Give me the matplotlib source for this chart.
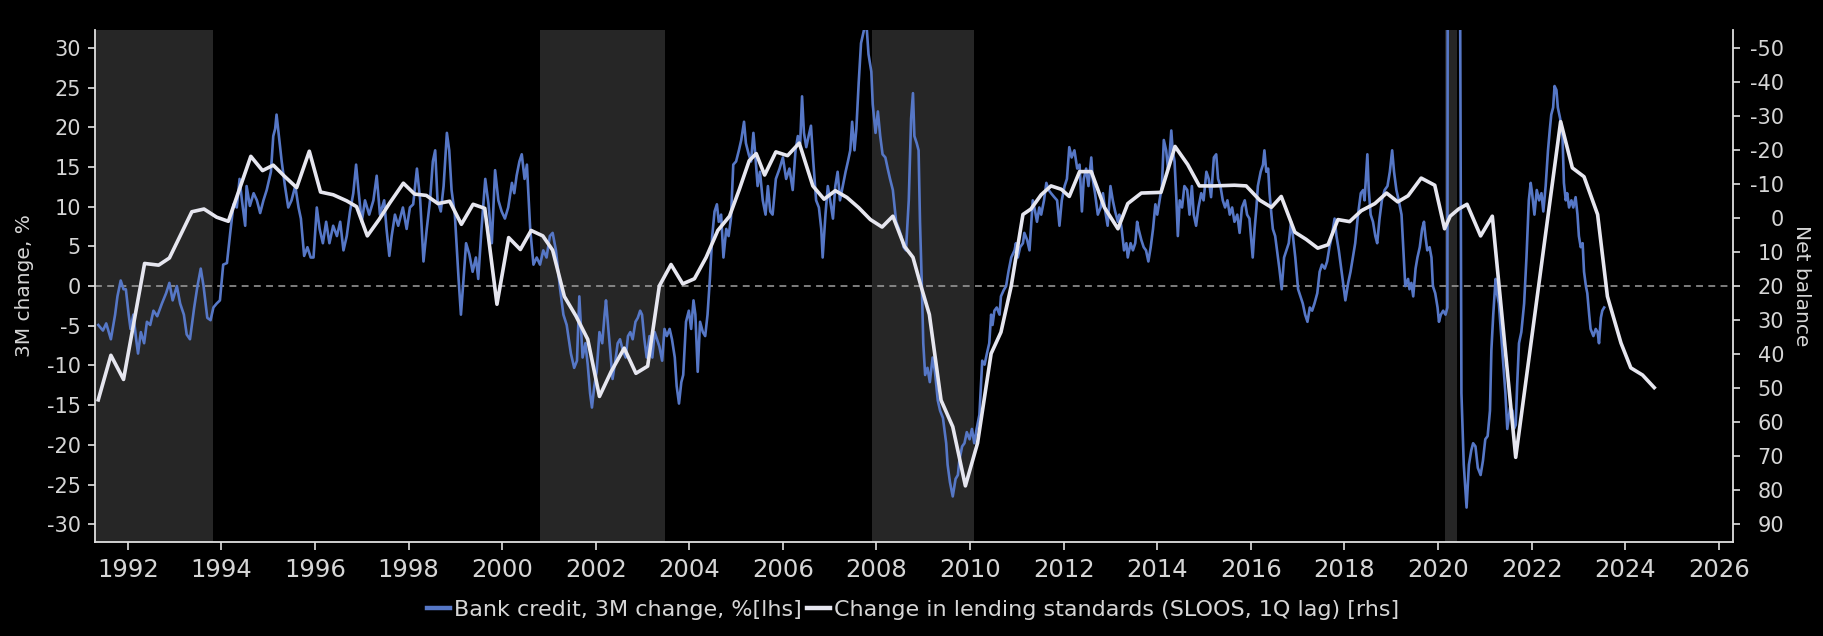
import matplotlib
matplotlib.use("Agg")
import matplotlib.pyplot as plt

plt.rcParams["font.family"] = ["DejaVu Sans"]
plt.rcParams["axes.unicode_minus"] = False

# ---------------- data ----------------
credit_years = [
 1991.37,1991.47,1991.54,1991.64,1991.73,1991.78,1991.85,1991.91,1991.96,1992.02,
 1992.06,1992.12,1992.18,1992.22,1992.28,1992.35,1992.41,1992.48,1992.55,1992.63,
 1992.73,1992.82,1992.89,1992.96,1993.05,1993.12,1993.20,1993.26,1993.33,1993.42,
 1993.49,1993.56,1993.62,1993.70,1993.77,1993.83,1993.90,1993.97,1994.04,1994.12,
 1994.19,1994.26,1994.33,1994.39,1994.44,1994.51,1994.54,1994.61,1994.69,1994.76,
 1994.83,1994.90,1994.97,1995.06,1995.11,1995.15,1995.18,1995.23,1995.29,1995.36,
 1995.43,1995.50,1995.58,1995.65,1995.70,1995.77,1995.84,1995.91,1995.97,1996.04,
 1996.10,1996.17,1996.24,1996.31,1996.39,1996.47,1996.54,1996.61,1996.68,1996.75,
 1996.82,1996.88,1996.93,1997.00,1997.07,1997.16,1997.25,1997.32,1997.39,1997.48,
 1997.53,1997.59,1997.64,1997.71,1997.78,1997.88,1997.96,1998.03,1998.10,1998.18,
 1998.25,1998.32,1998.39,1998.46,1998.52,1998.57,1998.62,1998.69,1998.75,1998.82,
 1998.87,1998.92,1998.99,1999.07,1999.12,1999.17,1999.23,1999.30,1999.37,1999.44,
 1999.49,1999.56,1999.64,1999.71,1999.78,1999.85,1999.92,1999.99,2000.06,2000.13,
 2000.21,2000.26,2000.31,2000.37,2000.42,2000.48,2000.53,2000.60,2000.67,2000.74,
 2000.81,2000.88,2000.95,2001.02,2001.08,2001.15,2001.24,2001.31,2001.38,2001.47,
 2001.54,2001.60,
 2001.65,2001.72,2001.78,2001.83,2001.88,2001.92,2001.97,2002.02,2002.08,2002.14,
 2002.19,2002.22,2002.27,2002.31,2002.36,2002.42,2002.47,2002.52,2002.58,2002.64,
 2002.69,2002.74,2002.79,2002.85,2002.90,2002.95,2002.99,2003.04,2003.09,2003.15,
 2003.21,2003.26,2003.31,2003.36,2003.42,2003.47,2003.52,2003.58,2003.63,2003.69,
 2003.73,2003.78,2003.83,2003.87,2003.93,2003.99,2004.04,2004.09,2004.13,2004.18,
 2004.23,2004.29,2004.34,2004.39,2004.44,2004.49,2004.54,2004.59,2004.63,2004.68,
 2004.73,2004.79,2004.84,2004.89,2004.94,2005.00,2005.06,2005.11,2005.17,2005.21,
 2005.27,2005.32,2005.37,2005.41,2005.46,2005.51,2005.57,2005.63,2005.68,2005.73,
 2005.78,2005.85,2005.93,2006.00,2006.07,2006.14,2006.21,2006.27,2006.32,2006.37,
 2006.41,2006.45,2006.50,2006.55,2006.60,2006.65,2006.71,2006.77,2006.82,2006.85,
 2006.91,2006.96,2007.01,2007.07,2007.12,2007.17,2007.22,2007.28,2007.34,2007.39,
 2007.44,2007.48,2007.53,2007.57,2007.62,2007.67,2007.72,2007.78,2007.83,2007.89,
 2007.92,2007.98,2008.03,2008.08,2008.13,2008.19,2008.24,2008.29,2008.35,2008.42,
 2008.48,2008.53,2008.58,2008.63,2008.69,2008.74,2008.78,2008.81,2008.86,2008.90,
 2008.93,2008.97,2009.00,2009.04,2009.09,2009.14,2009.20,2009.25,2009.31,2009.36,
 2009.42,2009.49,2009.52,2009.57,2009.63,2009.69,2009.74,2009.77,2009.83,2009.88,
 2009.93,2009.99,2010.04,2010.09,2010.14,2010.20,2010.26,2010.31,2010.36,2010.41,
 2010.45,2010.48,2010.52,2010.57,2010.63,
 2010.66,2010.72,2010.77,2010.82,2010.88,2010.95,2010.98,2011.02,2011.07,2011.13,
 2011.16,2011.22,2011.27,2011.30,2011.34,2011.39,2011.43,2011.48,2011.52,2011.58,
 2011.63,2011.68,2011.73,2011.80,2011.86,2011.91,2011.96,2012.02,2012.07,2012.12,
 2012.17,2012.23,2012.29,2012.34,2012.39,2012.43,2012.48,2012.53,2012.59,2012.62,
 2012.67,2012.73,2012.79,2012.84,2012.89,2012.94,2013.00,2013.05,2013.10,2013.16,
 2013.19,2013.24,2013.29,2013.34,2013.37,2013.43,2013.48,2013.53,2013.57,2013.60,
 2013.66,2013.71,2013.76,2013.81,2013.86,2013.91,2013.96,2014.00,2014.05,2014.10,
 2014.14,2014.19,2014.23,2014.26,2014.30,2014.33,2014.37,2014.41,2014.44,2014.48,
 2014.53,2014.58,2014.64,2014.69,2014.74,2014.78,2014.83,2014.88,2014.94,2014.99,
 2015.05,2015.10,2015.15,2015.21,2015.26,2015.30,2015.35,2015.40,2015.45,2015.50,
 2015.55,2015.60,2015.65,2015.71,2015.76,2015.81,2015.87,2015.92,2015.97,2016.02,
 2016.04,2016.08,2016.12,2016.15,2016.21,2016.26,2016.29,2016.33,2016.37,2016.40,
 2016.44,2016.47,2016.52,2016.56,2016.61,2016.66,2016.71,2016.76,2016.81,2016.86,
 2016.90,2016.95,2017.01,2017.06,2017.11,2017.16,2017.21,2017.26,2017.31,2017.36,
 2017.42,2017.47,2017.52,2017.58,2017.63,2017.68,2017.73,2017.79,2017.83,2017.88,
 2017.92,2017.97,2018.02,2018.08,2018.13,2018.18,2018.23,2018.29,2018.35,2018.40,
 2018.43,2018.49,2018.52,2018.56,2018.61,2018.66,2018.70,2018.75,2018.80,2018.86,
 2018.92,2018.97,2019.02,2019.06,2019.11,2019.16,2019.22,2019.26,2019.30,2019.36,
 2019.39,2019.43,2019.47,2019.52,2019.56,2019.61,2019.66,2019.70,2019.73,2019.77,
 2019.82,2019.86,2019.89,2019.94,2019.99,2020.02,2020.06,2020.11,2020.16,2020.20,
 2020.21,2020.30,2020.40,2020.47,2020.50,2020.55,2020.61,2020.66,2020.71,2020.75,
 2020.80,2020.85,2020.91,2020.96,2021.01,2021.06,2021.11,2021.14,2021.18,2021.23,
 2021.26,2021.30,2021.34,2021.39,2021.44,2021.48,2021.54,2021.59,2021.62,2021.66,
 2021.69,2021.73,2021.78,2021.84,2021.89,2021.94,2021.98,2022.01,2022.06,2022.11,
 2022.16,2022.21,2022.25,2022.30,2022.35,2022.39,2022.42,2022.46,2022.49,2022.53,
 2022.56,2022.61,2022.66,2022.69,2022.73,2022.76,2022.80,2022.85,2022.89,2022.94,
 2022.98,2023.01,2023.05,2023.09,2023.12,2023.16,2023.19,2023.23,2023.26,2023.32,
 2023.37,2023.41,2023.44,2023.48,2023.51,2023.55,
]
credit_vals = [
 -4.9,-5.6,-4.7,-6.7,-3.6,-1.3,0.7,-0.4,-0.4,-3.6,
 -5.4,-3.6,-6.7,-8.5,-5.8,-7.2,-4.5,-4.9,-3.1,-3.8,
 -2.2,-0.9,0.4,-1.8,0.0,-2.2,-3.6,-6.1,-6.7,-2.7,
 0.0,2.2,0.0,-4.0,-4.3,-2.7,-2.2,-1.8,2.7,2.9,
 6.7,10.3,9.9,13.5,10.8,7.6,12.6,10.1,11.7,10.8,
 9.2,10.8,12.1,14.4,18.9,19.8,21.6,18.9,15.7,12.6,
 9.9,10.8,12.6,9.9,8.5,3.8,4.9,3.6,3.6,9.9,
 7.2,5.4,8.1,5.4,7.6,6.3,8.1,4.5,6.3,9.4,
 11.7,15.3,12.1,8.1,10.8,9.0,10.8,13.9,9.0,10.8,
 7.2,3.8,6.3,9.0,7.6,9.9,7.2,9.9,10.3,14.8,
 10.8,3.1,7.2,10.8,15.7,17.1,10.8,9.4,12.6,19.3,
 17.1,12.1,9.0,0.9,-3.6,0.4,5.4,4.0,1.8,3.6,
 0.9,7.2,13.5,10.3,5.4,14.6,10.8,9.4,8.5,9.9,
 13.0,11.7,13.9,15.7,16.6,13.5,15.3,7.2,2.7,3.6,
 2.7,4.5,3.6,6.3,6.7,4.5,-0.4,-3.6,-4.9,-8.5,
 -10.3,-9.4,
 -1.3,-9.0,-7.2,-9.9,-13.5,-15.3,-12.6,-10.8,-5.8,-7.2,
 -3.6,-1.8,-5.4,-8.1,-11.7,-9.4,-7.2,-6.7,-8.1,-9.0,
 -6.3,-5.8,-6.7,-4.5,-4.0,-3.1,-3.6,-6.7,-9.0,-6.3,
 -9.0,-5.8,-6.7,-7.6,-9.4,-5.4,-6.3,-5.4,-6.7,-9.0,
 -12.6,-14.8,-12.1,-11.2,-4.5,-3.1,-5.4,-1.8,-3.6,-10.8,
 -4.5,-5.8,-6.3,-3.6,0.9,6.3,9.4,10.3,8.1,9.0,
 3.6,7.2,6.3,8.5,15.3,15.7,17.1,18.4,20.7,18.0,
 16.6,15.7,19.3,16.6,12.6,14.4,10.8,9.0,12.6,9.4,
 9.0,13.5,14.8,16.2,13.5,14.8,12.1,17.1,18.9,18.0,
 23.9,19.3,17.5,18.9,20.2,15.7,10.8,9.9,7.2,3.6,
 9.0,12.6,10.8,8.5,12.6,14.4,10.8,12.6,14.4,15.7,
 17.1,20.7,17.1,19.8,25.6,30.6,31.9,33.5,29.2,27.0,
 22.9,19.3,22.0,18.9,16.6,16.2,14.8,13.5,12.1,8.1,
 7.2,6.3,4.9,4.5,10.8,21.1,24.3,18.9,18.0,17.1,
 8.1,0.0,-7.2,-11.2,-10.3,-12.1,-9.0,-10.8,-14.4,-15.7,
 -16.6,-19.8,-22.5,-24.7,-26.5,-24.3,-23.8,-22.0,-20.2,-19.8,
 -18.4,-19.3,-18.0,-19.8,-18.0,-16.2,-9.4,-9.9,-8.5,-7.2,
 -3.6,-4.9,-3.1,-2.7,-3.6,
 -1.3,-0.5,0.0,1.8,3.6,4.5,5.4,3.6,4.9,5.4,
 6.7,5.8,4.5,7.2,10.8,9.4,8.1,9.9,9.0,10.8,
 13.0,12.1,11.7,11.2,10.8,7.6,10.8,12.6,13.5,17.5,
 16.2,17.1,14.8,15.3,9.4,13.5,14.8,12.6,16.2,13.5,
 11.7,9.0,9.9,11.7,9.4,7.6,12.6,10.8,9.4,8.1,
 9.0,7.2,4.5,5.4,3.6,5.4,4.5,5.4,8.1,7.2,
 5.8,4.9,4.5,3.1,4.9,7.2,10.3,9.0,10.8,12.6,
 18.4,17.1,14.8,16.2,19.6,17.1,15.7,10.8,6.3,10.8,
 9.9,12.6,12.1,9.0,12.6,9.0,7.6,9.9,11.7,10.8,
 14.4,13.5,11.2,16.2,16.6,13.5,12.6,10.8,9.9,10.8,
 9.0,9.9,8.1,9.0,6.7,9.9,10.8,9.0,8.5,4.9,
 3.6,7.2,9.9,12.6,14.4,15.3,17.1,14.4,14.8,11.7,
 9.0,7.2,6.3,4.5,2.2,-0.4,3.6,4.5,5.4,8.1,
 6.3,3.6,-0.4,-1.3,-2.2,-3.6,-4.5,-2.7,-3.1,-2.2,
 -0.9,1.8,2.7,2.2,3.1,4.9,6.3,8.5,6.3,4.5,
 2.7,0.4,-1.8,0.4,1.8,3.6,5.4,9.0,11.7,12.1,
 10.8,16.6,12.1,9.0,8.1,6.3,5.4,8.5,10.8,12.1,
 12.6,14.4,17.1,14.4,12.1,10.8,9.0,4.5,0.0,0.9,
 -0.4,0.4,-1.3,2.2,3.6,4.9,7.2,8.1,6.3,4.5,
 4.9,3.6,0.0,-0.9,-2.7,-4.5,-3.6,-3.1,-3.6,-2.7,
 55.0,62.0,50.0,40.0,-13.5,-22.5,-27.9,-22.5,-20.7,-19.8,
 -20.2,-22.9,-23.8,-22.0,-19.3,-18.9,-15.7,-8.1,-3.6,0.9,
 -0.9,-2.2,-5.4,-9.4,-13.5,-18.0,-15.3,-15.7,-18.0,-17.5,
 -12.6,-7.2,-5.8,-2.2,3.6,10.8,13.0,11.7,9.0,12.1,
 10.8,11.7,9.4,12.6,17.1,19.8,21.6,22.5,25.2,24.7,
 22.5,21.1,18.9,13.0,10.8,11.7,9.9,10.8,9.9,11.2,
 9.0,6.3,4.9,5.4,1.8,0.0,-0.9,-3.6,-5.4,-6.3,
 -5.4,-5.8,-7.2,-4.0,-3.1,-2.7,
]

sloos_years = [
 1991.37,1991.64,1991.91,1992.36,1992.66,1992.89,1993.37,1993.63,1993.90,1994.15,
 1994.63,1994.88,1995.11,1995.36,1995.61,1995.88,1996.12,1996.39,1996.68,1996.89,
 1997.12,1997.37,1997.60,1997.89,1998.13,1998.38,1998.63,1998.88,1999.13,1999.38,
 1999.63,1999.89,2000.14,2000.39,2000.62,2000.87,2001.08,2001.33,2001.58,2001.83,
 2002.08,2002.33,2002.61,2002.86,2003.11,2003.36,2003.61,2003.86,2004.11,2004.36,
 2004.61,2004.86,2005.07,2005.28,2005.43,2005.61,2005.85,2006.10,2006.35,2006.64,
 2006.88,2007.12,2007.37,2007.62,2007.87,2008.12,2008.35,2008.60,2008.78,2008.95,
 2009.13,2009.38,2009.63,2009.90,2010.16,2010.45,2010.66,2010.88,2011.13,2011.30,
 2011.52,2011.73,2011.95,2012.12,2012.34,2012.59,2012.87,2013.16,2013.37,2013.66,
 2014.08,2014.38,2014.65,2014.90,2015.22,2015.65,2015.90,2016.19,2016.44,2016.65,
 2016.94,2017.18,2017.43,2017.65,2017.86,2018.11,2018.36,2018.65,2018.90,2019.14,
 2019.36,2019.64,2019.93,2020.14,2020.26,2020.44,2020.62,2020.91,2021.16,2021.66,
 2022.62,2022.87,2023.12,2023.41,2023.62,2023.91,2024.12,2024.37,2024.62,
]
sloos_vals = [
 53.5,40.4,47.5,13.4,13.9,11.8,-1.8,-2.6,-0.2,1.0,
 -18.1,-13.9,-15.5,-12.1,-8.9,-19.6,-7.6,-6.8,-5.0,-3.3,
 5.3,0.5,-4.4,-10.2,-7.0,-6.6,-4.2,-4.9,1.9,-4.0,
 -2.8,25.4,5.8,9.3,3.7,5.3,9.5,23.1,28.9,35.7,
 52.5,45.2,38.3,45.7,43.6,20.0,13.7,19.4,17.9,11.6,
 3.7,-0.5,-8.4,-16.8,-18.9,-12.6,-19.4,-18.3,-22.0,-9.4,
 -5.5,-8.0,-6.0,-3.0,0.5,2.7,-0.5,8.4,11.6,20.0,
 28.4,53.6,61.4,78.8,66.2,39.9,33.6,20.0,-1.0,-2.6,
 -6.8,-9.4,-8.4,-6.3,-13.6,-13.6,-3.1,3.2,-4.2,-7.3,
 -7.5,-21.0,-15.7,-9.4,-9.4,-9.6,-9.4,-5.2,-3.1,-6.3,
 4.2,6.3,8.9,7.9,0.5,1.1,-2.1,-4.2,-7.3,-4.7,
 -6.5,-11.7,-9.6,3.2,-0.5,-2.6,-4.0,5.3,-0.5,70.4,
 -28.3,-14.7,-12.1,-1.0,23.1,36.8,44.1,46.2,49.9,
]

shade_start = [1990.5, 2000.80, 2007.90, 2020.15]
shade_end = [1993.83, 2003.48, 2010.08, 2020.41]

left_ticks = list(range(-30, 31, 5))
right_ticks = list(range(-50, 91, 10))
x_ticks = list(range(1992, 2027, 2))

# ---------------- styling ----------------
BG = "black"
SPINE = "#e0e0e0"
TXT = "#d6d6d6"
BLUE = "#5677c6"
WHITE = "#e6e6ef"
BAND = "#262626"

fig = plt.figure(figsize=(18.23, 6.36), dpi=100, facecolor=BG)
ax = fig.add_axes([0.0521, 0.1483, 0.8987, 0.8038])
ax.set_facecolor(BG)

for a, b in zip(shade_start, shade_end):
    ax.axvspan(a, b, color=BAND, lw=0, zorder=0)
ax.axhline(0, color="#a0a0a0", lw=1.1, ls=(0, (4.5, 3.5)), zorder=1)

l1, = ax.plot(credit_years, credit_vals, color=BLUE, lw=1.9, zorder=3,
              label="Bank credit, 3M change, %[lhs]")
ax.set_xlim(1991.30, 2026.31)
ax.set_ylim(-32.2, 32.2)

ax2 = ax.twinx()
l2, = ax2.plot(sloos_years, sloos_vals, color=WHITE, lw=2.6, zorder=4,
               label="Change in lending standards (SLOOS, 1Q lag) [rhs]")
ax2.set_ylim(95.2, -55.1)

for s in ["top"]:
    ax.spines[s].set_visible(False)
    ax2.spines[s].set_visible(False)
for s in ["left", "bottom"]:
    ax.spines[s].set_color(SPINE)
    ax.spines[s].set_linewidth(1.3)
ax.spines["right"].set_visible(False)
ax2.spines["left"].set_visible(False)
ax2.spines["bottom"].set_visible(False)
ax2.spines["right"].set_color(SPINE)
ax2.spines["right"].set_linewidth(1.3)

ax.set_xticks(x_ticks)
ax.set_xticklabels([str(t) for t in x_ticks])
ax.set_yticks(left_ticks)
ax.set_yticklabels([str(t) for t in left_ticks])
ax2.set_yticks(right_ticks)
ax2.set_yticklabels([str(t) for t in right_ticks])

ax.tick_params(axis="x", colors=SPINE, labelcolor=TXT, labelsize=17.5,
               length=5.5, width=1.2, pad=6, direction="out")
ax.tick_params(axis="y", colors=SPINE, labelcolor=TXT, labelsize=15,
               length=5, width=1.2, pad=5, direction="out")
ax2.tick_params(axis="y", colors=SPINE, labelcolor=TXT, labelsize=15,
                length=5, width=1.2, pad=31.5, direction="out")
for lab in ax2.get_yticklabels():
    lab.set_horizontalalignment("right")

fig.text(25 / 1823, 1 - 286 / 636, "3M change, %", rotation=90, color=TXT,
         fontsize=14.5, ha="center", va="center")
fig.text(1801 / 1823, 1 - 286 / 636, "Net balance", rotation=270, color=TXT,
         fontsize=14.5, ha="center", va="center")

leg = fig.legend(handles=[l1, l2], loc="center", ncol=2,
                 bbox_to_anchor=(913 / 1823, 1 - 610 / 636), frameon=False,
                 fontsize=16, handlelength=1.05, handletextpad=0.15,
                 columnspacing=0.25, borderaxespad=0, borderpad=0)
for t in leg.get_texts():
    t.set_color(TXT)
for h in leg.get_lines():
    h.set_linewidth(3.2)

fig.savefig("out.png", dpi=100, facecolor=BG)
